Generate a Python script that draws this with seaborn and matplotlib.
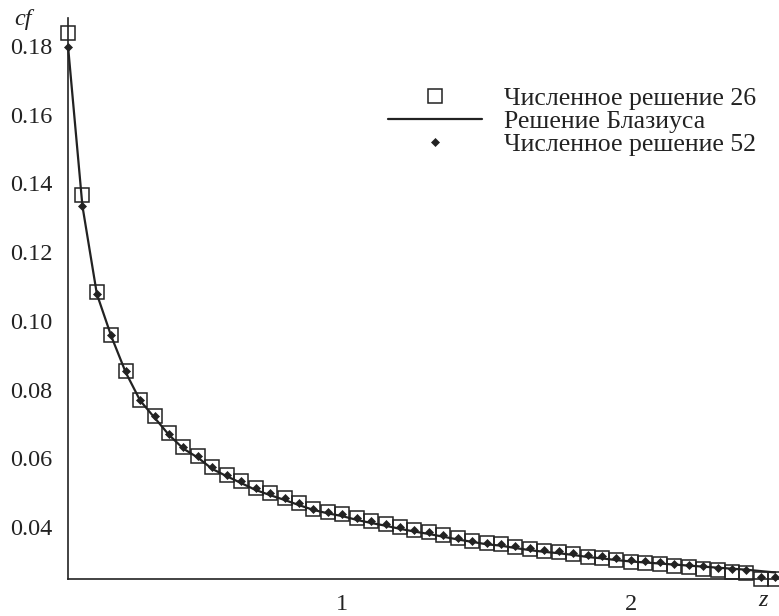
import matplotlib

matplotlib.use("Agg")
import matplotlib.pyplot as plt
import numpy as np
import pandas as pd
import seaborn as sns

# z = 0.05 ... 2.50, step 0.05 (50 nodes)
Z = [round(0.05 * k, 2) for k in range(1, 51)]

# "Численное решение 26" (open squares)
CF_26 = [
    0.1838, 0.1366, 0.1084, 0.0959, 0.0854, 0.0770, 0.0722, 0.0673, 0.0632, 0.0608,
    0.0574, 0.0553, 0.0533, 0.0513, 0.0498, 0.0484, 0.0469, 0.0454, 0.0445, 0.0438,
    0.0426, 0.0417, 0.0409, 0.0400, 0.0391, 0.0385, 0.0377, 0.0368, 0.0359, 0.0353,
    0.0351, 0.0342, 0.0336, 0.0330, 0.0327, 0.0321, 0.0314, 0.0310, 0.0304, 0.0298,
    0.0295, 0.0292, 0.0287, 0.0283, 0.0278, 0.0274, 0.0269, 0.0266, 0.0249, 0.0249,
]

# "Численное решение 52" (small filled dots)
CF_52 = [
    0.1797, 0.1334, 0.1078, 0.0960, 0.0854, 0.0770, 0.0722, 0.0672, 0.0632, 0.0608,
    0.0574, 0.0553, 0.0533, 0.0513, 0.0498, 0.0484, 0.0469, 0.0454, 0.0445, 0.0438,
    0.0426, 0.0417, 0.0409, 0.0400, 0.0391, 0.0385, 0.0377, 0.0368, 0.0360, 0.0354,
    0.0352, 0.0344, 0.0338, 0.0333, 0.0330, 0.0324, 0.0319, 0.0315, 0.0310, 0.0304,
    0.0301, 0.0298, 0.0293, 0.0290, 0.0286, 0.0282, 0.0279, 0.0276, 0.0255, 0.0255,
]

# "Решение Блазиуса" (solid line)
CF_BLASIUS = [
    0.1800, 0.1334, 0.1078, 0.0955, 0.0850, 0.0768, 0.0718, 0.0668, 0.0628, 0.0602,
    0.0569, 0.0548, 0.0528, 0.0508, 0.0493, 0.0479, 0.0464, 0.0450, 0.0440, 0.0432,
    0.0421, 0.0412, 0.0404, 0.0395, 0.0387, 0.0380, 0.0372, 0.0364, 0.0357, 0.0350,
    0.0346, 0.0339, 0.0333, 0.0328, 0.0324, 0.0319, 0.0313, 0.0309, 0.0304, 0.0300,
    0.0297, 0.0294, 0.0291, 0.0288, 0.0285, 0.0282, 0.0279, 0.0276, 0.0272, 0.0268,
]

X_TICKS = [1, 2]
Y_TICKS = [0.04, 0.06, 0.08, 0.10, 0.12, 0.14, 0.16, 0.18]

INK = "#222222"

sns.set_style("white")
plt.rcParams["font.family"] = ["Liberation Serif", "DejaVu Serif"]

df = pd.DataFrame({"z": Z, "n26": CF_26, "n52": CF_52, "blasius": CF_BLASIUS})

fig = plt.figure(figsize=(7.79, 6.16), dpi=100)
ax = fig.add_axes([68 / 779, 1 - 579 / 616, 1 - 68 / 779, (579 - 18) / 616])

sns.lineplot(
    data=df, x="z", y="n26", ax=ax, linestyle="none", marker="s",
    markersize=9.5, markerfacecolor="none", markeredgecolor=INK,
    markeredgewidth=1.1, label="Численное решение 26", clip_on=False,
)
sns.lineplot(
    data=df, x="z", y="blasius", ax=ax, color=INK, linewidth=1.6,
    label="Решение Блазиуса", clip_on=False,
)
sns.lineplot(
    data=df, x="z", y="n52", ax=ax, linestyle="none", marker="D",
    markersize=3.6, markerfacecolor=INK, markeredgecolor=INK,
    markeredgewidth=0.5, label="Численное решение 52", clip_on=False,
)

ax.set_xlim(0.05, 2.513)
ax.set_ylim(0.0249, 0.1881)
ax.set_xticks(X_TICKS)
ax.set_xticklabels([str(t) for t in X_TICKS])
ax.set_yticks(Y_TICKS)
ax.set_yticklabels([f"{t:.2f}" for t in Y_TICKS])
ax.set_xlabel("")
ax.set_ylabel("")

for side in ("top", "right"):
    ax.spines[side].set_visible(False)
for side in ("left", "bottom"):
    ax.spines[side].set_color(INK)
    ax.spines[side].set_linewidth(1.2)

ax.tick_params(axis="both", direction="in", length=9, width=1.1, color=INK,
               labelsize=17.5, labelcolor=INK)
ax.tick_params(axis="y", pad=11)
ax.tick_params(axis="x", pad=11)

fig.text(23 / 779, 1 - 19 / 616, "cf", style="italic", fontsize=17.5, color=INK,
         ha="center", va="center")
fig.text(763 / 779, 1 - 601 / 616, "z", style="italic", fontsize=17.5, color=INK,
         ha="center", va="center")

leg = ax.legend(
    loc="upper left", bbox_to_anchor=(388 / 779, 1 - 87 / 616),
    bbox_transform=fig.transFigure, frameon=False, fontsize=18.5,
    handlelength=3.65, handletextpad=0.85, labelspacing=0.0,
    borderpad=0, borderaxespad=0, labelcolor=INK,
)

fig.savefig("out.png", dpi=100)
